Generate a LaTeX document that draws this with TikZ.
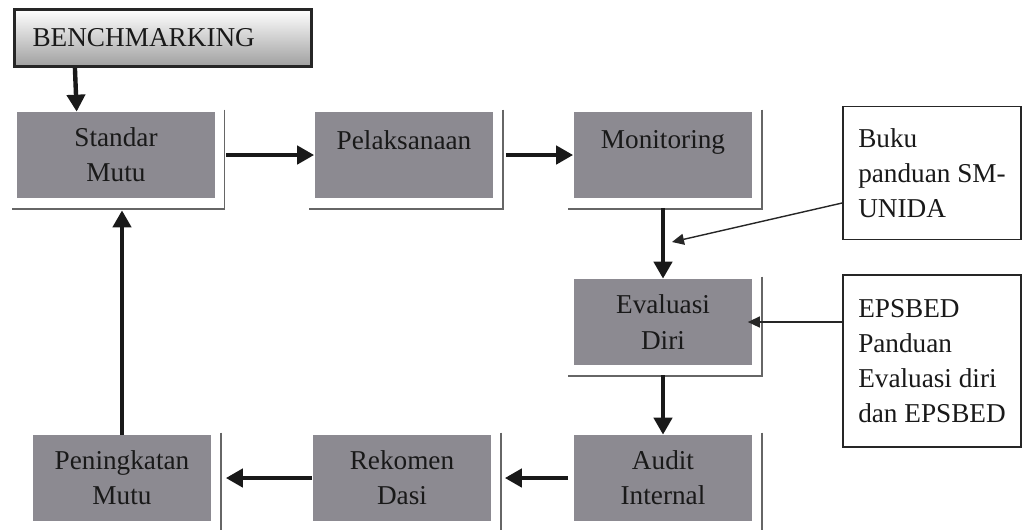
\documentclass[tikz,border=0pt]{standalone}
\usepackage{fontspec}
\setmainfont{Liberation Serif}
\usetikzlibrary{arrows.meta}
\definecolor{boxgray}{RGB}{140,138,145}
\tikzset{
    every node/.style={font=\fontsize{15.5}{20}\selectfont, text=black!90}
}
\tikzset{
    stage/.style={rectangle, fill=boxgray, align=center, minimum width=3.58cm,
        minimum height=1.72cm, append after command={
        ([xshift=1.8mm, yshift=0.4mm]\tikzlastnode.north east) edge [boxshade]
        ([xshift=-1mm, yshift=-2.1mm]\tikzlastnode.south west)}},
    boxshade/.style={draw=black!60, line width=0.8pt, to path={|- (\tikztotarget)}},
    note/.style={rectangle, draw=black!85, line width=1pt, fill=white, align=left,
        inner xsep=0pt, minimum width=3.56cm, minimum height=2.66cm}
}
\tikzset{
    flow/.style={draw=black!90, line width=2.5pt, -{Triangle[length=3.4mm, width=3.6mm]}},
    pointer/.style={draw=black!85, line width=0.8pt, -{Triangle[length=2.4mm, width=2.2mm]}}
}

\begin{document}
\begin{tikzpicture}[x=0.02cm, y=-0.02cm]
  \useasboundingbox (0, 0) rectangle (1023, 529);

  \node (bm) [rectangle, draw=black!85, line width=1.8pt, top color=white,
    bottom color=gray!75, align=left, text width=5.22cm, inner xsep=0.36cm,
    minimum height=1.14cm] at (163, 38) {BENCHMARKING};

  \node (sm) [stage, minimum width=3.96cm] at (116, 155) {Standar\\Mutu};
  \node (pel) [stage] at (404, 155) {Pelaksanaan\\[-0.3cm]\strut};
  \node (mon) [stage] at (663, 155) {Monitoring\\[-0.3cm]\strut};
  \node (evd) [stage] at (663, 322) {Evaluasi\\Diri};
  \node (aud) [stage] at (663, 478) {Audit\\Internal};
  \node (rek) [stage] at (402, 478) {Rekomen\\Dasi};
  \node (pm) [stage] at (122, 478) {Peningkatan\\Mutu};

  \node (buku) [note] at (932, 173) {Buku\\panduan SM-\\UNIDA};
  \node (eps) [note, minimum height=3.44cm] at (932, 361)
    {EPSBED\\Panduan\\Evaluasi diri\\dan EPSBED};

  \coordinate (bk) at (672, 242);

  \draw ([xshift=1.24cm]bm.south west) edge [flow] ([xshift=1.2cm]sm.north west);
  \draw (sm) edge [flow, shorten <=2.2mm] (pel);
  \draw (pel) edge [flow, shorten <=2.4mm] (mon);
  \draw (mon) edge [flow, shorten <=2mm] (evd);
  \draw (evd) edge [flow, shorten <=2mm] (aud);
  \draw (aud) edge [flow, shorten <=1mm, shorten >=2.6mm] (rek);
  \draw (rek) edge [flow, shorten >=2.8mm] (pm);
  \draw (pm.north) edge [flow, shorten >=2.4mm] (pm.north |- sm.south);

  \draw ([yshift=-0.6cm]buku.west) edge [pointer] (bk);
  \draw (eps.west |- evd.east) edge [pointer, shorten >=-1mm] (evd.east);
\end{tikzpicture}
\end{document}
